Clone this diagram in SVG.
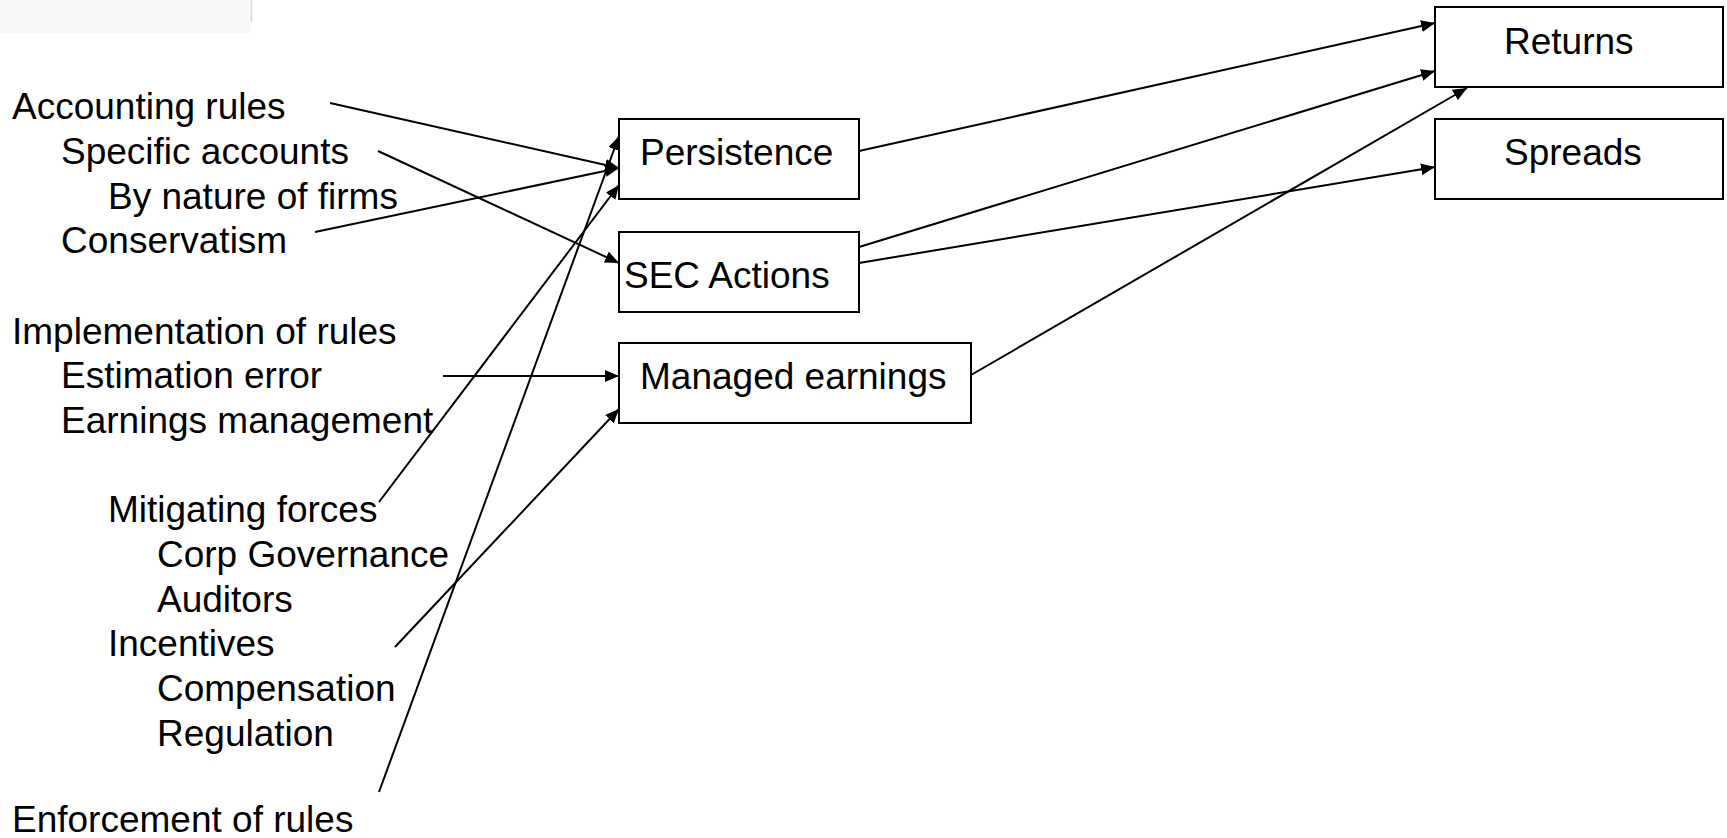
<svg xmlns="http://www.w3.org/2000/svg" width="1727" height="838" viewBox="0 0 1727 838">
<style>
text{font-family:"Liberation Sans",Arial,sans-serif;font-size:37px;fill:#000}
.box{fill:#fff;stroke:#000;stroke-width:2}
.c{stroke:#000;stroke-width:2;fill:none;marker-end:url(#ah)}
</style>
<defs>
<marker id="ah" markerUnits="userSpaceOnUse" markerWidth="15" markerHeight="12" refX="14" refY="6" orient="auto">
<path d="M0,0 L14,6 L0,12 z" fill="#000"/>
</marker>
</defs>
<rect x="0" y="0" width="251" height="33" fill="#f8f8f8"/>
<line x1="251.5" y1="0" x2="251.5" y2="22" stroke="#d8d8d8" stroke-width="1.5"/>
<g id="labels">
<text x="12" y="119">Accounting rules</text>
<text x="61" y="164">Specific accounts</text>
<text x="108" y="209">By nature of firms</text>
<text x="61" y="253">Conservatism</text>
<text x="12" y="344">Implementation of rules</text>
<text x="61" y="388">Estimation error</text>
<text x="61" y="433">Earnings management</text>
<text x="108" y="522">Mitigating forces</text>
<text x="157" y="567">Corp Governance</text>
<text x="157" y="612">Auditors</text>
<text x="108" y="656">Incentives</text>
<text x="157" y="701">Compensation</text>
<text x="157" y="746">Regulation</text>
<text x="12" y="832">Enforcement of rules</text>
</g>
<g id="connectors">
<line class="c" x1="330" y1="103" x2="619" y2="168"/>
<line class="c" x1="315" y1="232" x2="619" y2="168"/>
<line class="c" x1="378" y1="151" x2="619" y2="263"/>
<line class="c" x1="443" y1="376" x2="619" y2="376"/>
<line class="c" x1="379" y1="502" x2="619" y2="185"/>
<line class="c" x1="379" y1="792" x2="619" y2="136"/>
<line class="c" x1="395" y1="647" x2="619" y2="409"/>
<line class="c" x1="859" y1="151" x2="1435" y2="23"/>
<line class="c" x1="859" y1="247" x2="1435" y2="71"/>
<line class="c" x1="859" y1="263" x2="1435" y2="167"/>
<line class="c" x1="971" y1="375" x2="1467" y2="88"/>
</g>
<g id="persistence"><rect class="box" x="619" y="119" width="240" height="80"/><text x="640" y="165">Persistence</text></g>
<g id="sec-actions"><rect class="box" x="619" y="232" width="240" height="80"/><text x="624" y="288">SEC Actions</text></g>
<g id="managed-earnings"><rect class="box" x="619" y="343" width="352" height="80"/><text x="640" y="389">Managed earnings</text></g>
<g id="returns"><rect class="box" x="1435" y="7" width="288" height="80"/><text x="1504" y="54">Returns</text></g>
<g id="spreads"><rect class="box" x="1435" y="119" width="288" height="80"/><text x="1504" y="165">Spreads</text></g>
</svg>
